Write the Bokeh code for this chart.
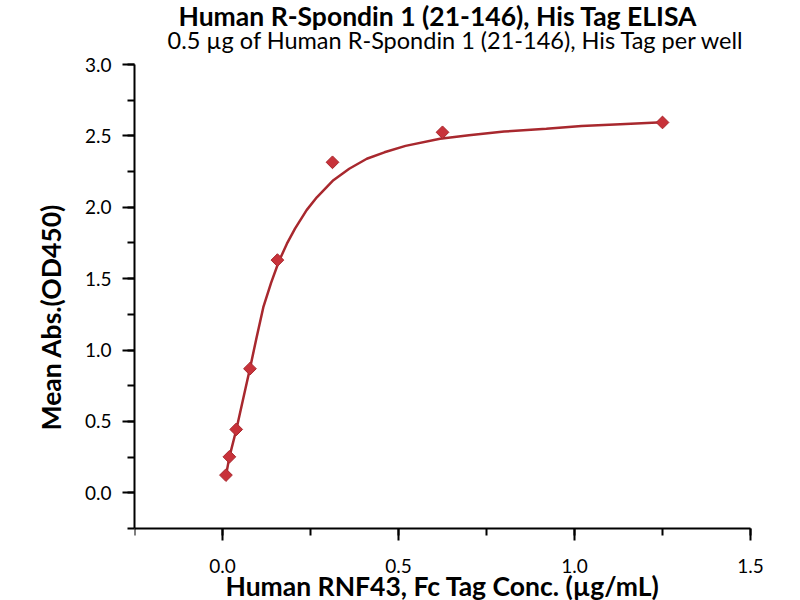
import math

from bokeh.plotting import figure
from bokeh.models import (Range1d, SingleIntervalTicker, PrintfTickFormatter,
                          Title, Label)
from bokeh.embed import file_html
from bokeh.resources import INLINE

# measured points (RNF43 conc., ug/mL -> mean OD450)
conc = [0.0098, 0.0195, 0.039, 0.078, 0.156, 0.3125, 0.625, 1.25]
od450 = [0.124, 0.252, 0.444, 0.869, 1.63, 2.315, 2.525, 2.594]

# fitted curve
fit_x = [0.0098, 0.0195, 0.039, 0.058, 0.078, 0.097, 0.116, 0.138, 0.16,
         0.183, 0.206, 0.239, 0.268, 0.315, 0.36, 0.41, 0.46, 0.52, 0.618,
         0.70, 0.80, 0.92, 1.02, 1.13, 1.25]
fit_y = [0.12, 0.25, 0.44, 0.65, 0.87, 1.09, 1.30, 1.47, 1.62,
         1.745, 1.85, 1.98, 2.07, 2.19, 2.27, 2.34, 2.385, 2.43, 2.48,
         2.505, 2.53, 2.55, 2.57, 2.582, 2.595]

FONT = "Lato"
RED = "#c8323a"
DARK_RED = "#a8282e"
W, H = 800, 600

# the frame fills the canvas (right of the y axis) so titles and tick labels
# fit in it; the axes are bounded to the data box at 134..750 x 64..528 px
X_LO, X_HI = -0.25, 1.5
Y_LO, Y_HI = -0.25, 3.0
LEFT_PX, RIGHT_PX = 134, 750
TOP_PX, BOT_PX = 64, 528
x_per_px = (X_HI - X_LO) / (RIGHT_PX - LEFT_PX)
y_per_px = (Y_HI - Y_LO) / (BOT_PX - TOP_PX)

p = figure(
    width=W, height=H,
    x_range=Range1d(X_LO, X_HI + (W - RIGHT_PX) * x_per_px),
    y_range=Range1d(Y_LO - (H - BOT_PX) * y_per_px, Y_HI + TOP_PX * y_per_px),
    toolbar_location=None, output_backend="svg",
    min_border_left=LEFT_PX, min_border_right=0,
    min_border_top=0, min_border_bottom=0,
    x_axis_label="Human RNF43, Fc Tag Conc. (µg/mL)",
)
p.outline_line_color = None
p.grid.visible = False
p.xaxis.bounds = (X_LO, X_HI)
p.yaxis.bounds = (Y_LO, Y_HI)
p.xaxis.fixed_location = Y_LO

p.line(fit_x, fit_y, line_color=DARK_RED, line_width=2.5)
p.scatter(conc, od450, marker="square", angle=math.pi / 4, size=9,
          fill_color=RED, line_color=DARK_RED, line_width=1)

for ax in (p.xaxis[0], p.yaxis[0]):
    ax.ticker = SingleIntervalTicker(interval=0.5, num_minor_ticks=2)
    ax.formatter = PrintfTickFormatter(format="%.1f")
    ax.axis_line_width = 2
    ax.major_tick_line_width = 2
    ax.minor_tick_line_width = 2
    ax.major_tick_in = 0
    ax.major_tick_out = 12
    ax.minor_tick_in = 0
    ax.minor_tick_out = 7
    ax.major_label_text_font = FONT
    ax.major_label_text_font_size = "19px"
    ax.major_label_text_color = "black"

p.xaxis.major_label_standoff = 18
p.yaxis.major_label_standoff = 11
p.xaxis.axis_label_standoff = -6
p.xaxis.axis_label_text_font = FONT
p.xaxis.axis_label_text_font_style = "bold"
p.xaxis.axis_label_text_font_size = "26.5px"
p.xaxis.axis_label_text_color = "black"

# y title as a side title, its start 170px above the canvas bottom
ytitle = Title(text="Mean Abs.(OD450)", align="left", offset=170,
               standoff=30, text_font=FONT, text_font_size="26.5px",
               text_font_style="bold", text_color="black")
p.add_layout(ytitle, "left")

# titles, screen px up from the bottom of the canvas
p.add_layout(Label(x=44, y=H - 15, x_units="screen", y_units="screen",
                   text="Human R-Spondin 1 (21-146), His Tag ELISA",
                   text_baseline="alphabetic", text_font=FONT,
                   text_font_size="26.5px", text_font_style="bold",
                   text_color="black"))
p.add_layout(Label(x=33, y=H - 39, x_units="screen", y_units="screen",
                   text="0.5 µg of Human R-Spondin 1 (21-146), His Tag per well",
                   text_baseline="alphabetic", text_font=FONT,
                   text_font_size="23.5px", text_color="black"))

open("out.html", "w").write(file_html(p, INLINE))
